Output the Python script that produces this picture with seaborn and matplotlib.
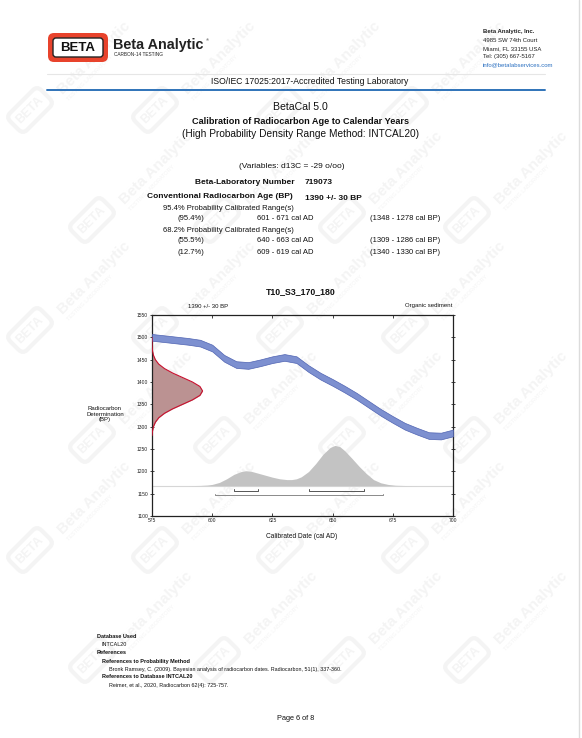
import numpy as np
import pandas as pd
import matplotlib
matplotlib.use('Agg')
import matplotlib.pyplot as plt
import seaborn as sns
from matplotlib.patches import FancyBboxPatch
from matplotlib.transforms import Affine2D

# ---------------- data ----------------
cal_years = [575, 580, 585, 590, 595, 600, 605, 610, 615, 620, 625, 630, 635,
             640, 645, 650, 655, 660, 665, 670, 675, 680, 685, 690, 695, 700]
cal_bp = [1500, 1497, 1494, 1491, 1487, 1476, 1453, 1439, 1437, 1443, 1450, 1455, 1450,
          1430, 1413, 1399, 1384, 1368, 1350, 1332, 1316, 1301, 1290, 1280, 1279, 1286]
cal_halfwidth = 7.5

det_bp = [1280, 1290, 1300, 1310, 1320, 1330, 1340, 1350, 1360, 1370, 1380, 1390,
          1400, 1410, 1420, 1430, 1440, 1450, 1460, 1470, 1480, 1490, 1500]
det_width = [0.0, 0.2, 0.6, 1.4, 2.8, 5.2, 8.6, 12.7, 16.8, 19.9, 21.0, 19.9,
             16.8, 12.7, 8.6, 5.2, 2.8, 1.4, 0.6, 0.2, 0.05, 0.0, 0.0]

prob_years = [590, 595, 598, 600, 603, 606, 609, 612, 614, 616, 619, 622, 625, 628,
              631, 633, 635, 637, 640, 643, 646, 649, 651, 653, 655, 658, 661, 664,
              667, 670, 673, 676, 680, 685]
prob_vals = [0, 0.005, 0.015, 0.03, 0.08, 0.17, 0.28, 0.35, 0.37, 0.36, 0.31, 0.26,
             0.21, 0.17, 0.15, 0.15, 0.17, 0.22, 0.35, 0.55, 0.78, 0.95, 1.0, 0.97,
             0.87, 0.68, 0.48, 0.30, 0.15, 0.07, 0.03, 0.01, 0.003, 0]
prob_base = 1168
prob_scale = 90

ranges_95 = [(601, 671)]
ranges_68 = [(609, 619), (640, 663)]

x_ticks = [575, 600, 625, 650, 675, 700]
y_ticks = [1100, 1150, 1200, 1250, 1300, 1350, 1400, 1450, 1500, 1550]

# ---------------- figure ----------------
W, H = 582, 738
fig = plt.figure(figsize=(W / 100, H / 100), dpi=100)
sns.set_style('white')
plt.rcParams['font.family'] = ['Liberation Sans', 'DejaVu Sans']

bg = fig.add_axes([0, 0, 1, 1], zorder=0)
bg.set_xlim(0, W)
bg.set_ylim(H, 0)
bg.axis('off')

WM = '#f4f4f4'


def wm_tile(cx, cy):
    tr = Affine2D().rotate_deg_around(cx, cy, -45) + bg.transData
    box = FancyBboxPatch((cx - 22, cy - 12), 44, 24,
                         boxstyle='round,pad=0,rounding_size=6',
                         fc='none', ec=WM, lw=3, transform=tr, zorder=0)
    bg.add_patch(box)
    bg.text(cx, cy, 'BETA', rotation=45, ha='center', va='center', color=WM,
            fontsize=9, fontweight='bold', rotation_mode='anchor', zorder=0)
    d = 0.7071
    tx, ty = cx + 42 * d, cy - 26 * d
    bg.text(tx, ty, 'Beta Analytic', rotation=45, ha='left', va='center', color=WM,
            fontsize=11, fontweight='bold', rotation_mode='anchor', zorder=0)
    bg.text(tx + 12 * d, ty + 12 * d, 'TESTING LABORATORY', rotation=45, ha='left',
            va='center', color=WM, fontsize=4, rotation_mode='anchor', zorder=0)


for j, yy in enumerate(range(110, 720, 110)):
    off = (j % 2) * 62
    for xx in range(30 + off, W - 100, 125):
        wm_tile(xx, yy)

# page edge
bg.plot([579, 579], [0, H], color='#dcdcdc', lw=1)

# ---------------- header ----------------
bg.add_patch(FancyBboxPatch((48, 33), 60, 29, boxstyle='round,pad=0,rounding_size=6',
                            fc='#e8432c', ec='none', zorder=2))
bg.add_patch(FancyBboxPatch((53, 38), 50, 19, boxstyle='round,pad=0,rounding_size=3',
                            fc='white', ec='#222222', lw=1, zorder=3))
bg.text(78, 48, 'BETA', ha='center', va='center', fontsize=9.5, fontweight='bold',
        color='#111111', zorder=4)
bg.text(113, 45, 'Beta Analytic', ha='left', va='center', fontsize=10.4,
        fontweight='bold', color='#222222', zorder=4)
bg.text(206, 40, '®', ha='left', va='center', fontsize=3, color='#222222')
bg.text(114, 55, 'CARBON-14 TESTING', ha='left', va='center', fontsize=3.4,
        color='#222222', zorder=4)

rt = ['Beta Analytic, Inc.', '4985 SW 74th Court', 'Miami, FL 33155 USA',
      'Tel: (305) 667-5167']
for i, s in enumerate(rt):
    bg.text(483, 32 + 8.2 * i, s, ha='left', va='center', fontsize=4.3,
            fontweight='bold' if i == 0 else 'normal', color='#222222')
bg.text(483, 65, 'info@betalabservices.com', ha='left', va='center', fontsize=4.3,
        color='#2a6fc0')

bg.plot([47, 545], [73.5, 73.5], color='#e6e6e6', lw=0.8)
bg.text(310, 82, 'ISO/IEC 17025:2017-Accredited Testing Laboratory', ha='center',
        va='center', fontsize=6.2, color='#111111')
bg.plot([47, 545], [90, 90], color='#2f73b9', lw=1.4)

# ---------------- title block ----------------
bg.text(300, 107, 'BetaCal 5.0', ha='center', va='center', fontsize=7.6, color='#111111')
bg.text(300, 121, 'Calibration of Radiocarbon Age to Calendar Years', ha='center',
        va='center', fontsize=6.6, fontweight='bold', color='#111111')
bg.text(300, 134, '(High Probability Density Range Method: INTCAL20)', ha='center',
        va='center', fontsize=7.3, color='#111111')

bg.text(292, 166, '(Variables: d13C = -29 o/oo)', ha='center', va='center',
        fontsize=6.0, color='#111111')
bg.text(295, 183, 'Beta-Laboratory Number', ha='right', va='center', fontsize=6.0,
        fontweight='bold', color='#111111')
bg.text(305, 183, '719073', ha='left', va='center', fontsize=6.0, fontweight='bold',
        color='#111111')
bg.text(293, 196, 'Conventional Radiocarbon Age (BP)', ha='right', va='center',
        fontsize=6.0, fontweight='bold', color='#111111')
bg.text(305, 198, '1390 +/- 30 BP', ha='left', va='center', fontsize=6.0,
        fontweight='bold', color='#111111')

rows = [
    (163, 208, '95.4% Probability Calibrated Range(s)'),
    (163, 230, '68.2% Probability Calibrated Range(s)'),
]
for x, y, s in rows:
    bg.text(x, y, s, ha='left', va='center', fontsize=5.5, color='#111111')
tbl = [
    (218, '(95.4%)', '601 - 671 cal AD', '(1348 - 1278 cal BP)'),
    (241, '(55.5%)', '640 - 663 cal AD', '(1309 - 1286 cal BP)'),
    (252, '(12.7%)', '609 - 619 cal AD', '(1340 - 1330 cal BP)'),
]
for y, a, b, c in tbl:
    bg.text(177, y, a, ha='left', va='center', fontsize=5.5, color='#111111')
    bg.text(257, y, b, ha='left', va='center', fontsize=5.5, color='#111111')
    bg.text(370, y, c, ha='left', va='center', fontsize=5.5, color='#111111')

bg.text(301, 292, 'T10_S3_170_180', ha='center', va='center', fontsize=6.3,
        fontweight='bold', color='#111111')
bg.text(208, 306, '1390 +/- 30 BP', ha='center', va='center', fontsize=4.3,
        color='#111111')
bg.text(452, 306, 'Organic sediment', ha='right', va='center', fontsize=4.3,
        color='#111111')
bg.text(105, 414, 'Radiocarbon\nDetermination\n(BP)', ha='center', va='center',
        fontsize=4.3, color='#111111', linespacing=1.25)
bg.text(302, 537, 'Calibrated Date (cal AD)', ha='center', va='center', fontsize=4.8,
        color='#111111')

# ---------------- references ----------------
refs = [
    (97, 636, 'Database Used', True),
    (102, 644, 'INTCAL20', False),
    (97, 652, 'References', True),
    (102, 661, 'References to Probability Method', True),
    (109, 669, 'Bronk Ramsey, C. (2009). Bayesian analysis of radiocarbon dates. '
               'Radiocarbon, 51(1), 337-360.', False),
    (102, 677, 'References to Database INTCAL20', True),
    (109, 685, 'Reimer, et al., 2020, Radiocarbon 62(4): 725-757.', False),
]
for x, y, s, b in refs:
    bg.text(x, y, s, ha='left', va='center', fontsize=3.9 if not b else 4.0,
            fontweight='bold' if b else 'normal', color='#111111')
bg.text(296, 719, 'Page 6 of 8', ha='center', va='center', fontsize=5.3, color='#111111')

# ---------------- chart ----------------
ax = fig.add_axes([152 / W, 1 - 516 / H, 301 / W, 201 / H], zorder=2)
ax.set_facecolor('none')

cal = pd.DataFrame({'year': cal_years, 'bp': cal_bp})
ax.fill_between(cal['year'], cal['bp'] - cal_halfwidth, cal['bp'] + cal_halfwidth,
                color='#7d90d0', ec='#4f63b2', lw=0.5, zorder=3)

det = pd.DataFrame({'bp': det_bp, 'w': det_width})
det['x'] = 575 + det['w']
ax.fill_betweenx(det['bp'], 575, det['x'], color='#bb9292', lw=0, zorder=2)
sns.lineplot(data=det, x='x', y='bp', orient='y', ax=ax, color='#c8102e', lw=0.8,
             zorder=4)

prob = pd.DataFrame({'year': prob_years, 'p': prob_vals})
prob['top'] = prob_base + prob['p'] * prob_scale
ax.axhline(prob_base, color='#d6d6d6', lw=0.8, zorder=1)
ax.fill_between(prob['year'], prob_base, prob['top'], color='#c3c3c3', lw=0, zorder=2)


def bracket(a, b, y, col):
    ax.plot([a, a, b, b], [y + 4, y, y, y + 4], color=col, lw=0.7, zorder=3)


for a, b in ranges_68:
    bracket(a, b, 1156, '#555555')
for a, b in ranges_95:
    bracket(a, b, 1146, '#8a8a8a')

ax.set_xlim(575, 700)
ax.set_ylim(1100, 1550)
ax.set_xticks(x_ticks)
ax.set_yticks(y_ticks)
ax.set_xticklabels([str(v) for v in x_ticks], fontsize=3.6)
ax.set_yticklabels([str(v) for v in y_ticks], fontsize=3.6)
ax.set_xlabel('')
ax.set_ylabel('')
ax.tick_params(axis='both', which='both', length=2.5, width=0.6, pad=1.5,
               colors='#222222')
ax.tick_params(top=True, right=True, direction='in')
ax.tick_params(axis='x', which='both', bottom=True, labelbottom=True)
ax.tick_params(axis='y', which='both', left=True, labelleft=True)
ax.tick_params(axis='y', which='major', direction='inout')
for sp in ax.spines.values():
    sp.set_visible(True)
    sp.set_color('#222222')
    sp.set_linewidth(0.9)

fig.savefig('out.png', dpi=100)
